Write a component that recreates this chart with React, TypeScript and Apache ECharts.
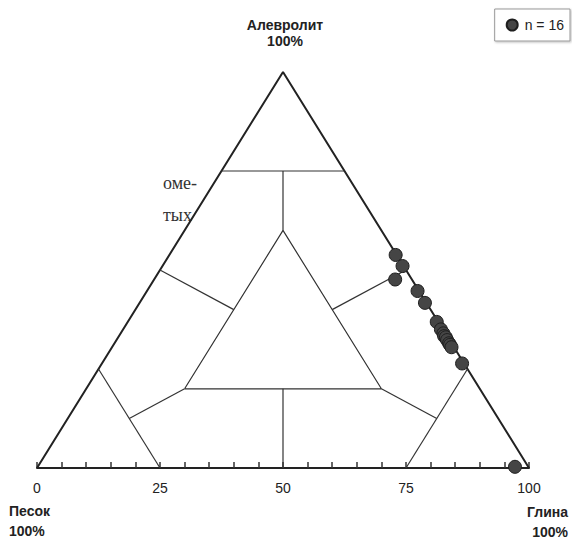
import React, { useEffect, useRef } from "react";
import * as echarts from "echarts";

// Sample composition (%)
const sand = [0.2, 0.2, 3.4, 0.3, 0.3, 0.3, 0.4, 0.4, 0.6, 0.4, 0.5, 0.5, 0.5, 0.5, 0.4, 2.7];
const silt = [53.8, 51.0, 47.6, 44.7, 41.7, 36.9, 35.0, 34.0, 33.3, 33.0, 32.3, 31.5, 31.1, 30.5, 26.4, 0.3];
const clay = [46.0, 48.8, 49.0, 55.0, 58.0, 62.8, 64.6, 65.6, 66.1, 66.6, 67.2, 68.0, 68.4, 69.0, 73.2, 97.0];

const seriesName = "n = 16";
const tickLabels = [0, 25, 50, 75, 100];

// Classification boundaries as [sand, silt, clay]
type T = [number, number, number];
const outerEdges: T[][] = [
  [[100, 0, 0], [0, 100, 0], [0, 0, 100]],
];
const innerLines: T[][] = [
  [[25, 75, 0], [0, 75, 25]],
  [[12.5, 75, 12.5], [20, 60, 20]],
  [[60, 20, 20], [20, 60, 20], [20, 20, 60], [60, 20, 20]],
  [[50, 50, 0], [40, 40, 20]],
  [[0, 50, 50], [20, 40, 40]],
  [[75, 25, 0], [75, 0, 25]],
  [[75, 12.5, 12.5], [60, 20, 20]],
  [[0, 25, 75], [25, 0, 75]],
  [[12.5, 12.5, 75], [20, 20, 60]],
  [[40, 20, 40], [50, 0, 50]],
];

const toXY = (p: T): [number, number] => [p[2] + p[1] / 2, p[1]];

export default function App() {
  const ref = useRef<HTMLDivElement>(null);
  useEffect(() => {
    if (!ref.current) return;
    const chart = echarts.init(ref.current, null, { renderer: "svg" });
    const font = "'Liberation Sans', Arial, sans-serif";
    const lineSeries = (segs: T[][], width: number, color: string) =>
      segs.map((seg) => ({
        type: "line",
        data: seg.map(toXY),
        symbol: "none",
        silent: true,
        lineStyle: { color, width },
        z: 2,
      }));
    const points = sand.map((_, i) => toXY([sand[i], silt[i], clay[i]]));
    chart.setOption({
      animation: false,
      grid: { left: 37, right: 43, top: 72, bottom: 84 },
      xAxis: {
        type: "value",
        min: 0,
        max: 100,
        interval: 5,
        splitLine: { show: false },
        axisLine: { lineStyle: { color: "#222", width: 2 } },
        axisTick: { inside: true, length: 6, lineStyle: { color: "#333", width: 1.5 } },
        axisLabel: {
          margin: 13,
          color: "#222",
          fontSize: 14,
          fontFamily: font,
          formatter: (v: number) => (tickLabels.includes(v) ? String(v) : ""),
        },
      },
      yAxis: { type: "value", min: 0, max: 100, show: false },
      legend: {
        data: [{ name: seriesName, icon: "circle" }],
        right: 2,
        top: 9,
        orient: "vertical",
        padding: [9, 6, 9, 11],
        itemWidth: 11,
        itemHeight: 11,
        itemGap: 0,
        borderColor: "#999",
        borderWidth: 1,
        shadowColor: "rgba(0,0,0,0.25)",
        shadowBlur: 2,
        shadowOffsetX: 1,
        shadowOffsetY: 1,
        backgroundColor: "#fff",
        textStyle: { color: "#222", fontSize: 14, fontFamily: font, padding: [0, 0, 0, 2] },
      },
      series: [
        ...lineSeries(outerEdges, 2, "#222"),
        ...lineSeries(innerLines, 1.2, "#333"),
        {
          name: seriesName,
          type: "scatter",
          data: points,
          symbol: "circle",
          symbolSize: 13,
          itemStyle: { color: "#454545", borderColor: "#1e1e1e", borderWidth: 1, opacity: 1 },
          z: 5,
        },
      ],
      graphic: [
        { type: "text", x: 285, y: 17, style: { text: "Алевролит\n100%", font: `bold 14px ${font}`, fill: "#222", align: "center", lineHeight: 16 } },
        { type: "text", x: 9, y: 501, style: { text: "Песок\n100%", font: `bold 14px ${font}`, fill: "#222", lineHeight: 20 } },
        { type: "text", x: 568, y: 502, style: { text: "Глина\n100%", font: `bold 14px ${font}`, fill: "#222", align: "right", lineHeight: 20 } },
        { type: "text", x: 163, y: 174, style: { text: "оме-", font: `18px 'Liberation Serif', serif`, fill: "#333" } },
        { type: "text", x: 163, y: 206, style: { text: "тых", font: `18px 'Liberation Serif', serif`, fill: "#333" } },
      ],
    });
    return () => chart.dispose();
  }, []);
  return (
    <div
      ref={ref}
      style={{ position: "absolute", left: 0, top: 0, width: 572, height: 552, background: "#fff" }}
    />
  );
}
